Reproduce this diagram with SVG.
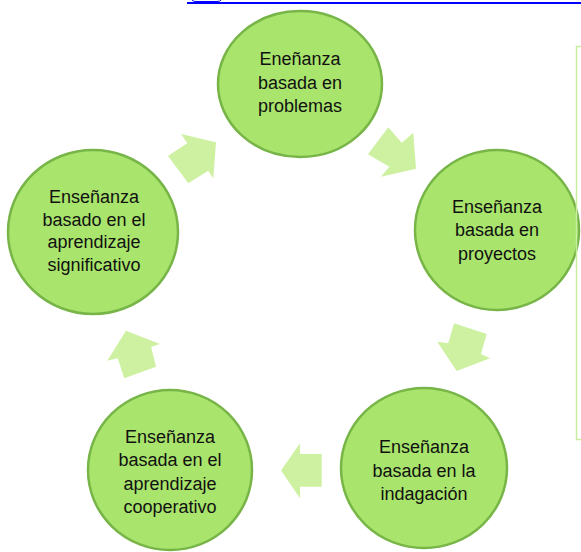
<svg xmlns="http://www.w3.org/2000/svg" width="581" height="552" viewBox="0 0 581 552">
<style>
.node{fill:#a9e56c;stroke:#78b548;stroke-width:2.5}
.arr{fill:#cdf1a1}
text{font-family:"Liberation Sans",Arial,sans-serif;font-size:18px;fill:#111;text-anchor:middle}
</style>
<rect width="581" height="552" fill="#fff"/>
<rect x="187" y="2" width="394" height="2" fill="#0000ff"/>
<path d="M192 0 Q193 1.5 196 1.5 L217 1.5 Q220 1.5 221 0" fill="none" stroke="#0000ff" stroke-width="1"/>
<g id="connectors">
<polygon class="arr" points="181,134 216,142.3 213.3,178.7 208.3,170.7 188.3,183.3 168,156 187.3,143.3"/>
<polygon class="arr" points="388.3,127.3 401.7,142.7 413.3,132.7 416,168.7 381,176.7 389.3,166.7 368,154.3"/>
<polygon class="arr" points="454,323.3 486.7,334 481,354 490,358.3 456.7,371 437.3,341.7 448.3,343.3"/>
<polygon class="arr" points="300,443.3 300,454 321.7,454 321.7,486.7 300,486.7 300,498.3 281,470.5"/>
<polygon class="arr" points="126,330.7 160,344 151,346.7 156,366.7 124.3,378.3 117.7,358.3 107.3,360.7"/>
</g>
<g id="n1">
<ellipse class="node" cx="300" cy="84" rx="82" ry="73"/>
<text x="300" y="65">Eneñanza</text>
<text x="300" y="89">basada en</text>
<text x="300" y="112">problemas</text>
</g>
<g id="n2">
<ellipse class="node" cx="497" cy="230" rx="82" ry="80"/>
<text x="497" y="213">Enseñanza</text>
<text x="497" y="236">basada en</text>
<text x="497" y="260">proyectos</text>
</g>
<g id="n3">
<ellipse class="node" cx="424" cy="468" rx="83" ry="80"/>
<text x="424" y="453">Enseñanza</text>
<text x="424" y="477">basada en la</text>
<text x="424" y="500">indagación</text>
</g>
<g id="n4">
<ellipse class="node" cx="170" cy="470" rx="82" ry="80"/>
<text x="170" y="443">Enseñanza</text>
<text x="170" y="466">basada en el</text>
<text x="170" y="490">aprendizaje</text>
<text x="170" y="513">cooperativo</text>
</g>
<g id="n5">
<ellipse class="node" cx="93" cy="232" rx="85" ry="82"/>
<text x="94" y="203">Enseñanza</text>
<text x="94" y="226">basado en el</text>
<text x="94" y="248">aprendizaje</text>
<text x="94" y="271">significativo</text>
</g>
<rect x="576.5" y="46.5" width="20" height="393" fill="none" stroke="#c8efa0" stroke-width="1.5"/>
</svg>
